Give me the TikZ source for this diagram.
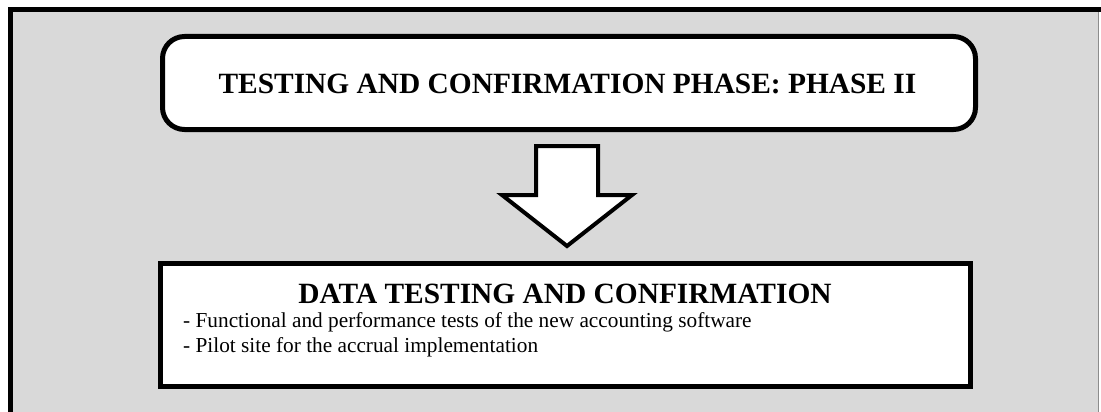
\documentclass[tikz,border=0pt]{standalone}
\usepackage{fontspec}
\setmainfont{Liberation Serif}
\begin{document}
\begin{tikzpicture}[x=1pt,y=-1pt,
  panel/.style={fill=white,draw=black,line width=5pt},
  heavy/.style={draw=black,line width=5pt},
  titletext/.style={font=\fontsize{29.4}{35}\selectfont\bfseries,inner sep=0pt},
  bodytext/.style={font=\fontsize{21.3}{25}\selectfont,inner sep=0pt,align=left}]
\useasboundingbox (0,0) rectangle (1101,412);
% grey background frame
\fill[black!15] (10,10) rectangle (1098,420);
\draw[black!45,line width=0.8pt] (1098,10) -- (1098,420);
\draw[heavy,line cap=rect] (10,420) -- (10,10) -- (1098,10);
% phase heading box
\draw[panel,rounded corners=22pt] (162.5,36.5) rectangle (975.5,129.5);
\node[titletext,anchor=base] (phase) at (567.5,93) {TESTING AND CONFIRMATION PHASE: PHASE II};
% block arrow
\draw[fill=white,draw=black,line width=4pt,line join=miter]
  (536,146) -- (598,146) -- (598,195) -- (632,195) -- (567,246)
  -- (502,195) -- (536,195) -- cycle;
% data testing box
\draw[panel] (160.5,263.5) rectangle (970.5,386.5);
\node[titletext,anchor=base] (data) at (565,303) {DATA TESTING AND CONFIRMATION};
\node[bodytext,anchor=base west] (items1) at (183,327) {- Functional and performance tests of the new accounting software};
\node[bodytext,anchor=base west] (items2) at (183,352) {- Pilot site for the accrual implementation};
\end{tikzpicture}
\end{document}
